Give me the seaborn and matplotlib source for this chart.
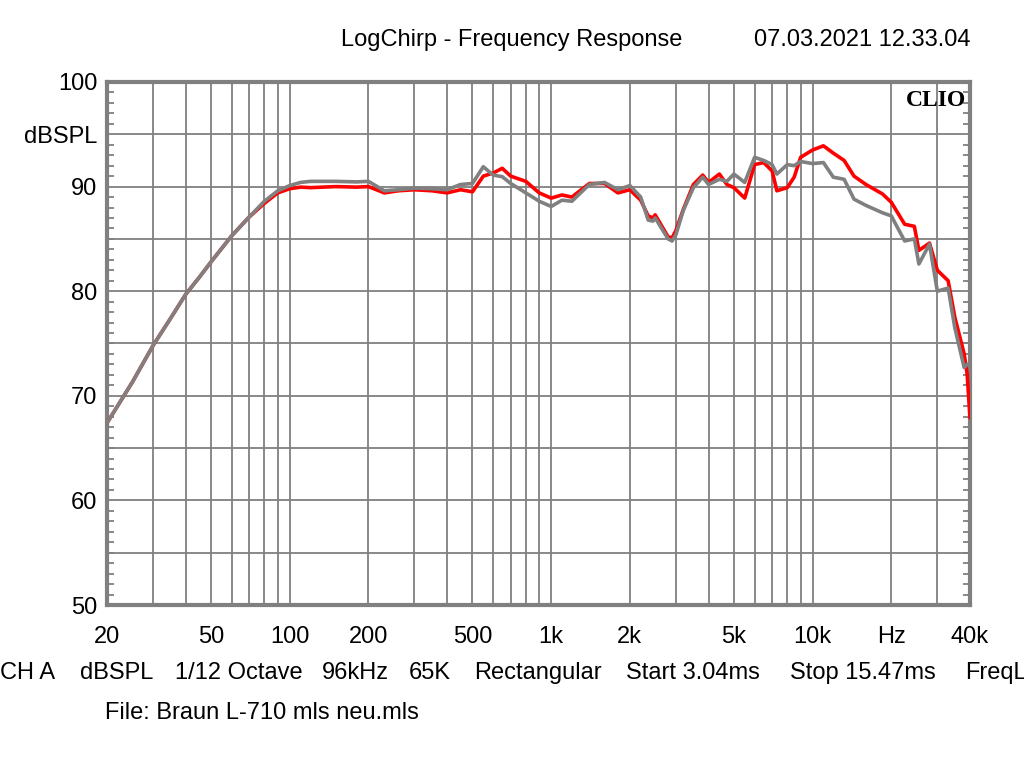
import matplotlib
matplotlib.use('Agg')
import matplotlib.pyplot as plt
import numpy as np
import pandas as pd
import seaborn as sns

# frequency points (Hz) and the two measured responses (dBSPL)
freq = [20, 25, 30, 35, 40, 45, 50, 60, 70, 80, 90, 100, 110, 120, 150, 180,
        200, 230, 260, 300, 350, 400, 450, 500, 550, 600, 650, 700, 800, 900,
        1000, 1100, 1200, 1400, 1600, 1800, 2000, 2200, 2350, 2450, 2500,
        2800, 2900, 3000, 3200, 3500, 3800, 4000, 4400, 4700, 5000, 5500,
        6000, 6500, 7000, 7300, 8000, 8500, 9000, 10000, 11000, 12000,
        13200, 14400, 16000, 18500, 20000, 22500, 24500, 25500, 28000,
        30000, 33000, 35000, 38000, 39000, 40000]
red_db = [67.4, 71.3, 74.8, 77.4, 79.7, 81.3, 82.8, 85.3, 87.1, 88.4, 89.4,
          89.8, 89.95, 89.9, 90.0, 89.95, 90.0, 89.4, 89.6, 89.7, 89.6, 89.4,
          89.7, 89.5, 91.0, 91.3, 91.75, 91.0, 90.5, 89.4, 88.9, 89.2, 89.0,
          90.3, 90.3, 89.4, 89.7, 88.7, 87.2, 87.0, 87.3, 85.2, 85.1, 85.8,
          87.8, 90.2, 91.1, 90.4, 91.2, 90.2, 89.9, 88.9, 92.1, 92.3, 91.5,
          89.6, 89.9, 90.9, 92.8, 93.5, 93.9, 93.2, 92.5, 91.0, 90.2, 89.3,
          88.5, 86.4, 86.2, 83.9, 84.6, 82.0, 81.0, 77.5, 74.0, 72.1, 67.9]
gray_db = [67.4, 71.3, 74.8, 77.4, 79.7, 81.3, 82.8, 85.3, 87.1, 88.6, 89.6,
           90.1, 90.4, 90.5, 90.5, 90.45, 90.5, 89.6, 89.7, 89.85, 89.8, 89.7,
           90.2, 90.3, 91.9, 91.1, 90.95, 90.3, 89.4, 88.6, 88.1, 88.7, 88.6,
           90.2, 90.4, 89.7, 90.1, 89.0, 86.8, 86.7, 87.0, 85.0, 84.8, 85.4,
           87.7, 89.9, 90.9, 90.2, 90.7, 90.5, 91.2, 90.4, 92.8, 92.5, 92.1,
           91.2, 92.1, 92.0, 92.4, 92.2, 92.3, 90.9, 90.7, 88.8, 88.2, 87.5,
           87.2, 84.8, 85.0, 82.6, 84.5, 80.0, 80.3, 76.5, 72.7, 73.0, 73.0]

x_tick_vals = [20, 50, 100, 200, 500, 1000, 2000, 5000, 10000, 20000, 40000]
x_tick_text = ['20', '50', '100', '200', '500', '1k', '2k', '5k', '10k', 'Hz', '40k']
y_tick_vals = [50, 60, 70, 80, 90, 95, 100]
y_tick_text = ['50', '60', '70', '80', '90', 'dBSPL', '100']

sns.set_style('white')
plt.rcParams['font.family'] = ['Liberation Sans', 'DejaVu Sans']
plt.rcParams['text.color'] = 'black'
plt.rcParams['xtick.color'] = 'black'
plt.rcParams['ytick.color'] = 'black'

df = pd.DataFrame({
    'Frequency': freq * 2,
    'dB': red_db + gray_db,
    'Curve': ['red'] * len(freq) + ['gray'] * len(freq),
})

grid_col = '#808080'
fs = 17
fig = plt.figure(figsize=(10.24, 7.68), dpi=100)
ax = fig.add_axes([107 / 1024, 1 - 605 / 768, 863 / 1024, 523 / 768])

sns.lineplot(data=df, x='Frequency', y='dB', hue='Curve', hue_order=['red', 'gray'],
             palette={'red': '#ff0000', 'gray': '#808080'}, linewidth=2.6,
             legend=False, ax=ax, zorder=5)

ax.set_xscale('log')
ax.set_xlim(20, 40000)
ax.set_ylim(50, 100)

grid_x = [f * d for d in (10, 100, 1000, 10000) for f in range(1, 10)] + [40000]
grid_x = [g for g in grid_x if 20 <= g <= 40000]
ax.set_xticks(grid_x, minor=True)
ax.set_xticks(x_tick_vals)
ax.set_xticklabels(x_tick_text)
ax.set_yticks(y_tick_vals)
ax.set_yticklabels(y_tick_text)
ax.set_yticks(np.arange(50, 101, 1), minor=True)

for g in grid_x:
    ax.axvline(g, color=grid_col, lw=1.3, zorder=1)
for h in range(55, 100, 5):
    ax.axhline(h, color=grid_col, lw=1.3, zorder=1)

ax.tick_params(axis='x', which='both', length=0, pad=15, labelsize=fs)
ax.tick_params(axis='y', which='major', length=0, pad=7, labelsize=fs)
ax.tick_params(axis='y', which='minor', direction='in', length=5, width=1.3,
               color=grid_col, left=True, right=True)
ax.set_xlabel('')
ax.set_ylabel('')
for s in ax.spines.values():
    s.set_color(grid_col)
    s.set_linewidth(3)

ax.text(0.996, 0.984, 'CLIO', transform=ax.transAxes, ha='right', va='top',
        family=['Liberation Serif', 'DejaVu Serif'], fontweight='bold', fontsize=17,
        color='black', zorder=6)

fig.text(512 / 1024, 1 - 40 / 768, 'LogChirp - Frequency Response', ha='center',
         va='center', fontsize=fs)
fig.text(970 / 1024, 1 - 40 / 768, '07.03.2021 12.33.04', ha='right', va='center',
         fontsize=fs)

bottom_items = [('CH A', 0), ('dBSPL', 80), ('1/12 Octave', 175), ('96kHz', 322),
                ('65K', 409), ('Rectangular', 474), ('Start 3.04ms', 626),
                ('Stop 15.47ms', 790), ('FreqL', 965)]
for txt, px in bottom_items:
    fig.text(px / 1024, 1 - 673 / 768, txt, ha='left', va='center', fontsize=fs)
fig.text(105 / 1024, 1 - 713 / 768, 'File: Braun L-710 mls neu.mls', ha='left',
         va='center', fontsize=fs)

fig.savefig('out.png', dpi=100)
